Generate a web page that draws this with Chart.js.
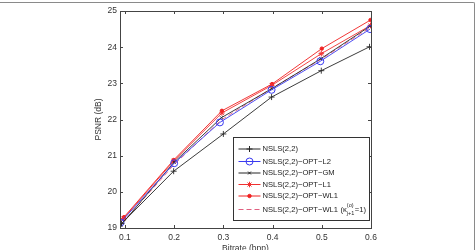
<!DOCTYPE html>
<html>
<head>
<meta charset="utf-8">
<script src="https://cdn.jsdelivr.net/npm/chart.js@4/dist/chart.umd.min.js"></script>
<style>
  html, body { margin: 0; padding: 0; background: #fff; overflow: hidden; width: 476px; height: 250px; }
  #frame { position: absolute; left: 0; top: 2px; width: 474px; height: 260px; border-top: 1px solid #8a8a8a; border-right: 1px solid #8a8a8a; border-top-right-radius: 2px; }
  #wrap { position: absolute; left: 0; top: 0; width: 476px; height: 262px; }
</style>
</head>
<body>
<div id="frame"></div>
<div id="wrap"><canvas id="c" width="476" height="262"></canvas></div>
<script>
// ---- data ----
const xTicks = [0.1, 0.2, 0.3, 0.4, 0.5, 0.6];
const yTicks = [19, 20, 21, 22, 23, 24, 25];

const nslsX   = [0.093, 0.199, 0.300, 0.398, 0.499, 0.597];
const nslsY   = [19.12, 20.57, 21.60, 22.62, 23.35, 24.01];

const l2X     = [0.091, 0.200, 0.293, 0.398, 0.497, 0.598];
const l2Y     = [19.15, 20.79, 21.92, 22.82, 23.61, 24.50];

const gmX     = [0.092, 0.200, 0.296, 0.398, 0.498, 0.598];
const gmY     = [19.08, 20.82, 22.05, 22.85, 23.68, 24.58];

const l1X     = [0.097, 0.199, 0.297, 0.398, 0.499, 0.599];
const l1Y     = [19.26, 20.85, 22.18, 22.94, 23.82, 24.60];

const wl1X    = [0.098, 0.199, 0.297, 0.399, 0.500, 0.599];
const wl1Y    = [19.30, 20.88, 22.24, 22.98, 23.96, 24.75];

const wl1kX   = [0.094, 0.199, 0.295, 0.398, 0.498, 0.599];
const wl1kY   = [19.13, 20.74, 21.98, 22.86, 23.66, 24.55];

const seriesNames = [
  'NSLS(2,2)',
  'NSLS(2,2)\u2212OPT\u2212L2',
  'NSLS(2,2)\u2212OPT\u2212GM',
  'NSLS(2,2)\u2212OPT\u2212L1',
  'NSLS(2,2)\u2212OPT\u2212WL1',
  'NSLS(2,2)\u2212OPT\u2212WL1'
];

const xTitle = 'Bitrate (bpp)';
const yTitle = 'PSNR (dB)';

const pts = (xs, ys) => xs.map((x, i) => ({ x: x, y: ys[i] }));

const FONT = 'Liberation Sans, Arial, Helvetica, sans-serif';
const LEG = 7.6;

const datasets = [
  { label: seriesNames[0], data: pts(nslsX, nslsY), borderColor: '#262626', backgroundColor: '#262626',
    pointStyle: 'cross', pointRadius: 3, borderWidth: 0.9, pointBorderWidth: 0.9 },
  { label: seriesNames[1], data: pts(l2X, l2Y), borderColor: '#3a3af0', backgroundColor: 'rgba(0,0,0,0)',
    pointStyle: 'circle', pointRadius: 3.5, borderWidth: 0.9, pointBorderWidth: 1 },
  { label: seriesNames[2], data: pts(gmX, gmY), borderColor: '#262626', backgroundColor: '#262626',
    pointStyle: 'crossRot', pointRadius: 2, borderWidth: 0.9, pointBorderWidth: 0.9 },
  { label: seriesNames[3], data: pts(l1X, l1Y), borderColor: '#f03030', backgroundColor: '#f03030',
    pointStyle: 'star', pointRadius: 2.8, borderWidth: 0.9, pointBorderWidth: 1 },
  { label: seriesNames[4], data: pts(wl1X, wl1Y), borderColor: '#f02020', backgroundColor: '#f02020',
    pointStyle: 'circle', pointRadius: 1.7, borderWidth: 0.9, pointBorderWidth: 1 },
  { label: seriesNames[5], data: pts(wl1kX, wl1kY), borderColor: '#e06080', backgroundColor: '#e06080',
    pointRadius: 0, borderWidth: 0.9, borderDash: [5, 3], isKappa: true }
];

// box + inward ticks, MATLAB style
const boxPlugin = {
  id: 'box',
  afterDatasetsDraw(chart) {
    const { ctx, chartArea: a, scales } = chart;
    ctx.save();
    ctx.strokeStyle = '#444';
    ctx.lineWidth = 1;
    ctx.strokeRect(Math.round(a.left) + 0.5, Math.round(a.top) + 0.5,
                   Math.round(a.right - a.left), Math.round(a.bottom - a.top));
    const tl = 3;
    ctx.beginPath();
    scales.x.ticks.forEach(t => {
      const px = Math.round(scales.x.getPixelForValue(t.value)) + 0.5;
      ctx.moveTo(px, a.bottom); ctx.lineTo(px, a.bottom - tl);
      ctx.moveTo(px, a.top); ctx.lineTo(px, a.top + tl);
    });
    scales.y.ticks.forEach(t => {
      const py = Math.round(scales.y.getPixelForValue(t.value)) + 0.5;
      ctx.moveTo(a.left, py); ctx.lineTo(a.left + tl, py);
      ctx.moveTo(a.right, py); ctx.lineTo(a.right - tl, py);
    });
    ctx.stroke();
    ctx.restore();
  }
};

// legend drawn inside the plot (lower right)
const legendPlugin = {
  id: 'inLegend',
  afterDraw(chart) {
    const { ctx, chartArea: a } = chart;
    const H = Chart.helpers;
    const left = Math.round(a.right - 138) + 0.5;
    const right = Math.round(a.right - 2) + 0.5;
    const top = 137.5;
    const bottom = Math.round(a.bottom - 8) + 0.5;
    ctx.save();
    ctx.fillStyle = '#fff';
    ctx.fillRect(left, top, right - left, bottom - top);
    ctx.strokeStyle = '#333';
    ctx.lineWidth = 1;
    ctx.strokeRect(left, top, right - left, bottom - top);
    const rows = [11.5, 24, 35.5, 47, 58.5, 72];
    chart.data.datasets.forEach((ds, i) => {
      const y = top + rows[i];
      const x0 = left + 5, x1 = left + 27;
      ctx.save();
      ctx.strokeStyle = ds.borderColor;
      ctx.lineWidth = 1;
      ctx.setLineDash(ds.borderDash || []);
      ctx.beginPath(); ctx.moveTo(x0, y); ctx.lineTo(x1, y); ctx.stroke();
      ctx.setLineDash([]);
      if (ds.pointRadius > 0 && H && H.drawPoint) {
        ctx.fillStyle = ds.backgroundColor;
        ctx.strokeStyle = ds.borderColor;
        H.drawPoint(ctx, { pointStyle: ds.pointStyle, radius: ds.pointRadius, borderWidth: 1, rotation: 0 },
                    (x0 + x1) / 2, y);
      }
      ctx.restore();
      ctx.fillStyle = '#222';
      ctx.textBaseline = 'middle';
      ctx.textAlign = 'left';
      ctx.font = LEG + 'px ' + FONT;
      let tx = left + 29;
      ctx.fillText(ds.label, tx, y);
      if (ds.isKappa) {
        tx += ctx.measureText(ds.label).width + 2.5;
        ctx.fillText('(', tx, y);
        tx += ctx.measureText('(').width;
        ctx.fillText('\u03ba', tx, y);
        tx += ctx.measureText('\u03ba').width;
        ctx.font = '5.5px ' + FONT;
        ctx.fillText('(o)', tx, y - 4.5);
        ctx.fillText('j+1', tx, y + 4);
        tx += ctx.measureText('j+1').width + 0.5;
        ctx.font = LEG + 'px ' + FONT;
        ctx.fillText('=1)', tx, y);
      }
    });
    ctx.restore();
  }
};

new Chart(document.getElementById('c'), {
  type: 'line',
  data: { datasets: datasets },
  options: {
    responsive: false,
    animation: false,
    devicePixelRatio: 1,
    layout: { padding: { left: 90, right: 105, top: 11, bottom: 0 } },
    plugins: { legend: { display: false }, tooltip: { enabled: false } },
    elements: { line: { tension: 0 } },
    scales: {
      x: {
        type: 'linear', min: 0.09, max: 0.6,
        afterBuildTicks: s => { s.ticks = xTicks.map(v => ({ value: v })); },
        afterFit: s => { s.height = 34; },
        grid: { display: false, drawTicks: false },
        border: { display: false },
        ticks: { padding: 5, color: '#333', font: { size: 8.5, family: FONT },
                 callback: v => v.toFixed(1), maxRotation: 0, autoSkip: false },
        title: { display: true, text: xTitle, color: '#333', font: { size: 8.5, family: FONT },
                 padding: { top: 0, bottom: 8 } }
      },
      y: {
        type: 'linear', min: 19, max: 25,
        afterBuildTicks: s => { s.ticks = yTicks.map(v => ({ value: v })); },
        afterFit: s => { s.width = 30; },
        grid: { display: false, drawTicks: false },
        border: { display: false },
        ticks: { padding: 3, color: '#333', font: { size: 8.5, family: FONT }, autoSkip: false },
        title: { display: true, text: yTitle, color: '#333', font: { size: 8.5, family: FONT },
                 padding: { top: 4, bottom: 0 } }
      }
    }
  },
  plugins: [boxPlugin, legendPlugin]
});
</script>
</body>
</html>
